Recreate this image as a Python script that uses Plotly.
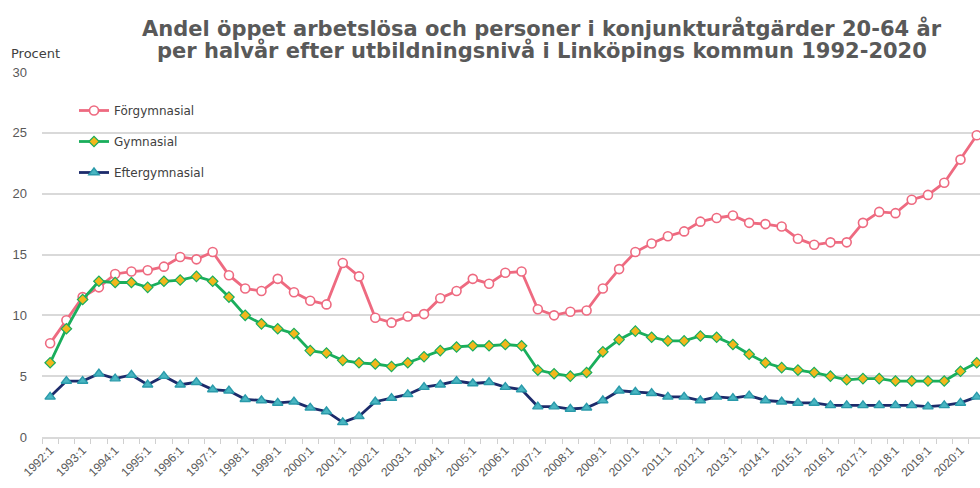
import plotly.graph_objects as go

years = list(range(1992, 2021))
categories = [f"{y}:{h}" for y in years for h in (1, 2)]
tick_text = [c if c.endswith(":1") else "" for c in categories]

forgymnasial = [7.7, 9.6, 11.5, 12.3, 13.4, 13.6, 13.7, 14.0, 14.8, 14.6,
                15.2, 13.3, 12.2, 12.0, 13.0, 11.9, 11.2, 10.9, 14.3, 13.2,
                9.8, 9.4, 9.9, 10.1, 11.4, 12.0, 13.0, 12.6, 13.5, 13.6,
                10.5, 10.0, 10.3, 10.4, 12.2, 13.8, 15.2, 15.9, 16.5, 16.9,
                17.7, 18.0, 18.2, 17.6, 17.5, 17.3, 16.3, 15.8, 16.0, 16.0,
                17.6, 18.5, 18.4, 19.5, 19.9, 20.9, 22.8, 24.8]
gymnasial = [6.1, 8.9, 11.3, 12.8, 12.7, 12.7, 12.3, 12.8, 12.9, 13.2,
             12.8, 11.5, 10.0, 9.3, 8.9, 8.5, 7.1, 6.9, 6.3, 6.1,
             6.0, 5.8, 6.1, 6.6, 7.1, 7.4, 7.5, 7.5, 7.6, 7.5,
             5.5, 5.2, 5.0, 5.3, 7.0, 8.0, 8.7, 8.2, 7.9, 7.9,
             8.3, 8.2, 7.6, 6.8, 6.1, 5.7, 5.5, 5.3, 5.0, 4.7,
             4.8, 4.8, 4.6, 4.6, 4.6, 4.6, 5.4, 6.1]
eftergymnasial = [3.3, 4.6, 4.6, 5.2, 4.8, 5.1, 4.3, 5.0, 4.3, 4.5,
                  3.9, 3.8, 3.1, 3.0, 2.8, 2.9, 2.4, 2.1, 1.2, 1.7,
                  2.9, 3.2, 3.5, 4.1, 4.3, 4.6, 4.4, 4.5, 4.1, 3.9,
                  2.5, 2.5, 2.3, 2.4, 3.0, 3.8, 3.7, 3.6, 3.3, 3.3,
                  3.0, 3.3, 3.2, 3.4, 3.0, 2.9, 2.8, 2.8, 2.6, 2.6,
                  2.6, 2.6, 2.6, 2.6, 2.5, 2.6, 2.8, 3.3]

y_ticks = [0, 5, 10, 15, 20, 25, 30]
title_lines = ["Andel öppet arbetslösa och personer i konjunkturåtgärder 20-64 år",
               "per halvår efter utbildningsnivå i Linköpings kommun 1992-2020"]

FONT = "Liberation Sans, Arial, sans-serif"
WIDE = "DejaVu Sans, sans-serif"
GREY = "#595959"

W, H = 980, 488
ML, MR, MT, MB = 42, 0, 72, 51
PW, PH = W - ML - MR, H - MT - MB


def px_x(px):
    return (px - ML) / PW


def px_y(py):
    return (H - MB - py) / PH


fig = go.Figure()
fig.add_trace(go.Scatter(
    x=categories, y=forgymnasial, name="Förgymnasial", mode="lines+markers",
    legendgroup="a",
    line=dict(color="#EE6A80", width=2.8),
    marker=dict(symbol="circle", size=9, color="white",
                line=dict(color="#EE6A80", width=1.6)),
))
fig.add_trace(go.Scatter(
    x=categories, y=gymnasial, name="Gymnasial", mode="lines+markers",
    legendgroup="b",
    line=dict(color="#1AAE5C", width=2.8),
    marker=dict(symbol="diamond", size=8, color="#F2B71C",
                line=dict(color="#1AAE5C", width=1.2)),
))
fig.add_trace(go.Scatter(
    x=categories, y=eftergymnasial, name="Eftergymnasial", mode="lines+markers",
    legendgroup="c",
    line=dict(color="#1C2B6B", width=2.8),
    marker=dict(symbol="triangle-up", size=9, color="#49B6C2",
                line=dict(color="#2A9AAA", width=1.4)),
))

annotations = [
    dict(text=title_lines[0], x=px_x(542), y=px_y(28), xref="paper", yref="paper",
         xanchor="center", yanchor="middle", showarrow=False,
         font=dict(family=WIDE, size=21, color=GREY, weight="bold")),
    dict(text=title_lines[1], x=px_x(542), y=px_y(50), xref="paper", yref="paper",
         xanchor="center", yanchor="middle", showarrow=False,
         font=dict(family=WIDE, size=21, color=GREY, weight="bold")),
    dict(text="Procent", x=px_x(9), y=px_y(53), xref="paper", yref="paper",
         xanchor="left", yanchor="middle", showarrow=False,
         font=dict(family=WIDE, size=13, color="#404040")),
]

fig.update_layout(
    width=W, height=H,
    margin=dict(l=ML, r=MR, t=MT, b=MB, autoexpand=False),
    paper_bgcolor="white", plot_bgcolor="white",
    font=dict(family=FONT, color=GREY),
    showlegend=True,
    legend=dict(
        x=px_x(74), y=px_y(96), xanchor="left", yanchor="top",
        bgcolor="rgba(255,255,255,0)",
        font=dict(family=WIDE, size=12, color="#404040"),
        tracegroupgap=12,
    ),
    xaxis=dict(
        type="category",
        categoryorder="array", categoryarray=categories,
        range=[-0.5, 57.2],
        tickmode="array", tickvals=categories, ticktext=tick_text,
        tickson="boundaries",
        ticks="outside", ticklen=5, tickcolor="#D0D0D0",
        tickangle=-45,
        tickfont=dict(family=FONT, size=12, color=GREY),
        showgrid=False,
        showline=True, linecolor="#D9D9D9", linewidth=1.5,
        zeroline=False, automargin=False,
    ),
    yaxis=dict(
        range=[0, 30],
        tickmode="array", tickvals=y_ticks,
        tickfont=dict(family=FONT, size=13, color=GREY),
        showgrid=True, gridcolor="#D9D9D9", gridwidth=1.5,
        showline=False, zeroline=False,
        ticks="", ticklabelstandoff=14, automargin=False,
    ),
    annotations=annotations,
)

fig.write_html("out.html", config={"displayModeBar": False},
               post_script="document.body.style.margin='0px';")
